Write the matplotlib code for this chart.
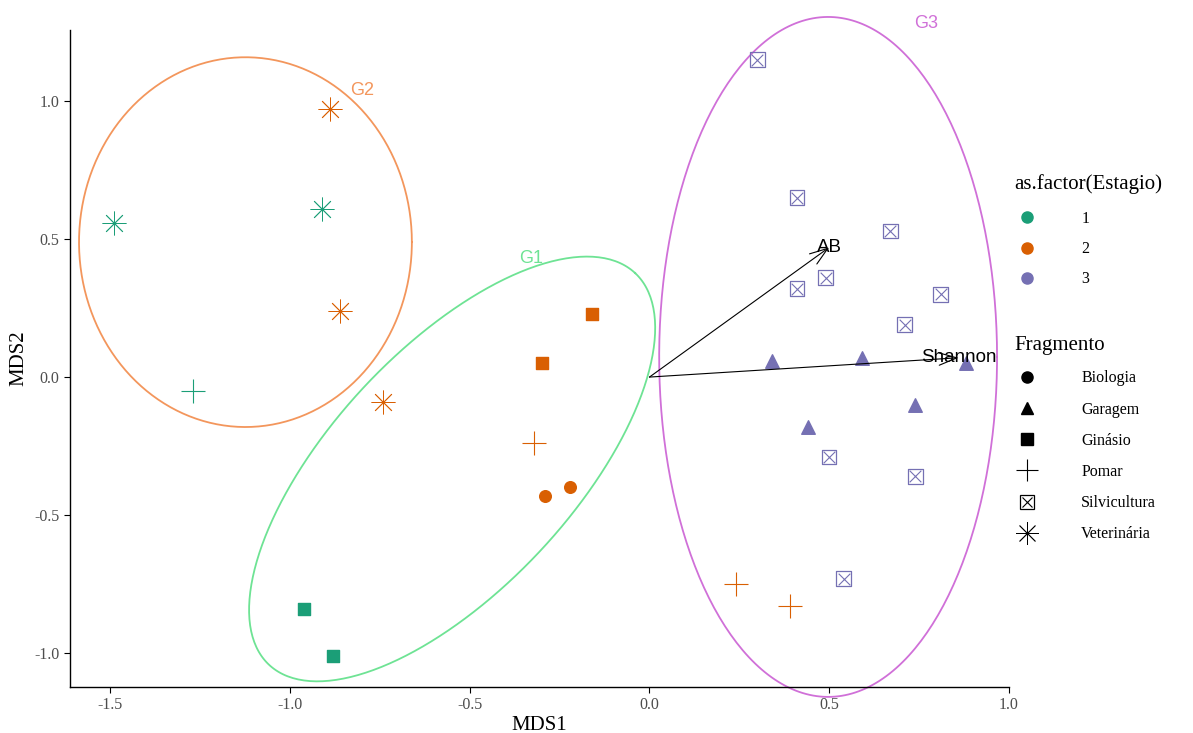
import numpy as np
import matplotlib
matplotlib.use("Agg")
import matplotlib.pyplot as plt
from matplotlib.lines import Line2D
from matplotlib.legend_handler import HandlerTuple

# --- data ---
estagio_cols = {1: "#1B9E77", 2: "#D95F02", 3: "#7570B3"}

# Fragmento, Estagio, MDS1, MDS2
frag = ["Veterinária", "Veterinária", "Pomar", "Ginásio", "Ginásio",
        "Veterinária", "Veterinária", "Veterinária", "Ginásio", "Ginásio",
        "Pomar", "Biologia", "Biologia", "Pomar", "Pomar",
        "Silvicultura", "Silvicultura", "Silvicultura", "Silvicultura", "Silvicultura",
        "Silvicultura", "Silvicultura", "Silvicultura", "Silvicultura", "Silvicultura",
        "Garagem", "Garagem", "Garagem", "Garagem", "Garagem"]
estagio = [1, 1, 1, 1, 1,
           2, 2, 2, 2, 2, 2, 2, 2, 2, 2,
           3, 3, 3, 3, 3, 3, 3, 3, 3, 3, 3, 3, 3, 3, 3]
mds1 = [-1.49, -0.91, -1.27, -0.96, -0.88,
        -0.89, -0.86, -0.74, -0.16, -0.30, -0.32, -0.29, -0.22, 0.24, 0.39,
        0.30, 0.41, 0.67, 0.49, 0.41, 0.81, 0.71, 0.50, 0.74, 0.54,
        0.34, 0.59, 0.88, 0.74, 0.44]
mds2 = [0.56, 0.61, -0.05, -0.84, -1.01,
        0.97, 0.24, -0.09, 0.23, 0.05, -0.24, -0.43, -0.40, -0.75, -0.83,
        1.15, 0.65, 0.53, 0.36, 0.32, 0.30, 0.19, -0.29, -0.36, -0.73,
        0.06, 0.07, 0.05, -0.10, -0.18]

# envfit vectors
vec_names = ["AB", "Shannon"]
vec_x = [0.50, 0.86]
vec_y = [0.47, 0.07]

# group ellipses: centre, two conjugate semi-diameters, colour
ell_names = ["G1", "G2", "G3"]
ell_center = [(-0.549, -0.333), (-1.124, 0.489), (0.497, 0.073)]
ell_a = [(0.509, 0.710), (0.463, 0.0), (0.470, 0.0)]
ell_b = [(0.245, -0.297), (0.0, 0.670), (0.0, 1.232)]
ell_cols = ["#6EE394", "#F3965C", "#D070D8"]
ell_label_xy = [(-0.33, 0.43), (-0.80, 1.04), (0.77, 1.28)]

frag_levels = ["Biologia", "Garagem", "Ginásio", "Pomar", "Silvicultura", "Veterinária"]

plt.rcParams["font.family"] = ["Liberation Serif", "DejaVu Serif"]

fig = plt.figure(figsize=(11.93, 7.33), dpi=100)
ax = fig.add_axes([0.0587, 0.0628, 0.787, 0.896])

t = np.linspace(0, 2 * np.pi, 300)
for name, c, a, b, col, lxy in zip(ell_names, ell_center, ell_a, ell_b, ell_cols, ell_label_xy):
    ex = c[0] + a[0] * np.cos(t) + b[0] * np.sin(t)
    ey = c[1] + a[1] * np.cos(t) + b[1] * np.sin(t)
    ax.plot(ex, ey, color=col, lw=1.3, clip_on=False)
    ax.text(lxy[0], lxy[1], name, color=col, fontsize=13, family="Liberation Sans",
            ha="center", va="center", clip_on=False)


def draw_point(x, y, f, col):
    if f == "Biologia":
        ax.scatter(x, y, marker="o", s=70, color=col, zorder=3)
    elif f == "Garagem":
        ax.scatter(x, y, marker="^", s=95, color=col, zorder=3)
    elif f == "Ginásio":
        ax.scatter(x, y, marker="s", s=75, color=col, zorder=3)
    elif f == "Pomar":
        ax.scatter(x, y, marker="+", s=280, color=col, lw=0.8, zorder=3)
    elif f == "Silvicultura":
        ax.scatter(x, y, marker="s", s=110, facecolor="none", edgecolor=col, lw=0.9, zorder=3)
        ax.scatter(x, y, marker="x", s=70, color=col, lw=0.8, zorder=3)
    else:
        ax.scatter(x, y, marker=(8, 2, 0), s=280, color=col, lw=0.6, zorder=3)


for x, y, f, e in zip(mds1, mds2, frag, estagio):
    draw_point(x, y, f, estagio_cols[e])

for name, vx, vy in zip(vec_names, vec_x, vec_y):
    ax.annotate("", xy=(vx, vy), xytext=(0, 0),
                arrowprops=dict(arrowstyle="->,head_length=1.3,head_width=0.45",
                                color="black", lw=0.8, shrinkA=0, shrinkB=0))
    ax.text(vx, vy, name, fontsize=13.5, family="Liberation Sans", ha="center", va="center")

ax.set_xlim(-1.612, 1.0)
ax.set_ylim(-1.123, 1.257)
ax.set_xticks([-1.5, -1.0, -0.5, 0.0, 0.5, 1.0])
ax.set_yticks([-1.0, -0.5, 0.0, 0.5, 1.0])
ax.set_xticklabels(["-1.5", "-1.0", "-0.5", "0.0", "0.5", "1.0"])
ax.set_yticklabels(["-1.0", "-0.5", "0.0", "0.5", "1.0"])
ax.tick_params(colors="black", labelcolor="#4D4D4D", labelsize=11.5, length=4, width=0.8)
for side in ["top", "right"]:
    ax.spines[side].set_visible(False)
for side in ["left", "bottom"]:
    ax.spines[side].set_linewidth(1.0)
ax.set_xlabel("MDS1", fontsize=15, labelpad=2)
ax.set_ylabel("MDS2", fontsize=15, labelpad=4)

# legends
h1 = [Line2D([], [], marker="o", ls="", color=estagio_cols[k], markersize=8) for k in [1, 2, 3]]
leg1 = fig.legend(h1, ["1", "2", "3"], title="as.factor(Estagio)", loc="upper left",
                  bbox_to_anchor=(0.838, 0.782), frameon=False, fontsize=11.5,
                  title_fontsize=15, labelspacing=0.9, handletextpad=2.6,
                  handlelength=1.6, alignment="left")
leg1._legend_box.sep = 12

silv = (Line2D([], [], marker="s", ls="", mfc="none", mec="black", markersize=10, mew=0.9),
        Line2D([], [], marker="x", ls="", color="black", markersize=7, mew=0.8))
h2 = [Line2D([], [], marker="o", ls="", color="black", markersize=8),
      Line2D([], [], marker="^", ls="", color="black", markersize=9),
      Line2D([], [], marker="s", ls="", color="black", markersize=8),
      Line2D([], [], marker="+", ls="", color="black", markersize=16, mew=0.8),
      silv,
      Line2D([], [], marker=(8, 2, 0), ls="", color="black", markersize=16, mew=0.6)]
leg2 = fig.legend(h2, frag_levels, title="Fragmento", loc="upper left",
                  bbox_to_anchor=(0.838, 0.561), frameon=False, fontsize=11.5,
                  title_fontsize=15, labelspacing=0.95, handletextpad=2.6,
                  handlelength=1.6, alignment="left",
                  handler_map={tuple: HandlerTuple(ndivide=1, pad=0)})
leg2._legend_box.sep = 11

fig.savefig("out.png", dpi=100)
